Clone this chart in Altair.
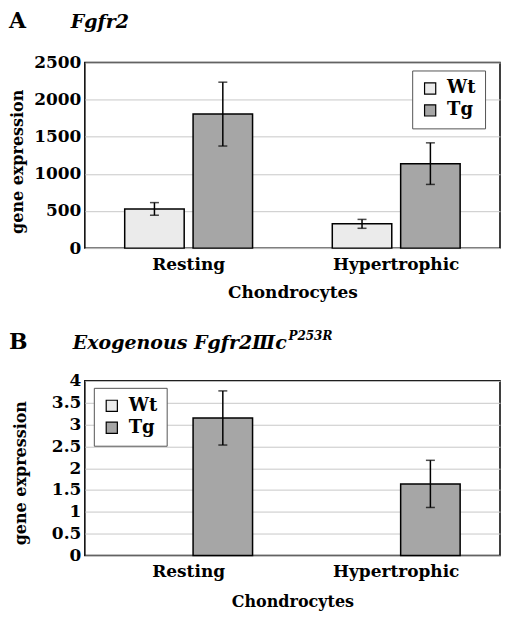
import altair as alt
import pandas as pd

groups = ["Wt", "Tg"]
cells = ["Resting", "Hypertrophic"]

# Panel A: Fgfr2
a_wt = [528, 327]
a_wt_err = [85, 60]
a_tg = [1805, 1138]
a_tg_err = [430, 280]
a_ticks = [0, 500, 1000, 1500, 2000, 2500]

# Panel B: exogenous Fgfr2IIIc P253R (Wt not detected)
b_tg = [3.15, 1.64]
b_tg_err = [0.62, 0.54]
b_ticks = [0, 0.5, 1, 1.5, 2, 2.5, 3, 3.5, 4]

fills = ["#ebebeb", "#a6a6a6"]
FONT = "DejaVu Serif"
W = 416


def make_df(series):
    rows = []
    for g, vals, errs in series:
        for c, v, e in zip(cells, vals, errs):
            rows.append({"cell": c, "group": g, "value": v, "lo": v - e, "hi": v + e})
    return pd.DataFrame(rows)


df_a = make_df([("Wt", a_wt, a_wt_err), ("Tg", a_tg, a_tg_err)])
df_b = make_df([("Tg", b_tg, b_tg_err)])


def panel(df, ticks, ymax, height, xo_inner, xo_outer, lx, ly, title_x, title_y,
          letter, gene, sup, xtitle_size, xtitle_pad):
    x = alt.X("cell:N", sort=cells,
              scale=alt.Scale(domain=cells, paddingInner=0, paddingOuter=0),
              axis=alt.Axis(title="Chondrocytes", labelAngle=0, ticks=False, domain=False,
                            labelFontSize=17, labelFontWeight="bold", labelPadding=8,
                            titleFontSize=xtitle_size, titleFontWeight="bold",
                            titlePadding=xtitle_pad,
                            labelColor="black", titleColor="black"))
    xo = alt.XOffset("group:N", sort=groups,
                     scale=alt.Scale(domain=groups, paddingInner=xo_inner, paddingOuter=xo_outer))
    yaxis = alt.Axis(values=ticks, labelExpr="'' + datum.value", labelOverlap=False,
                     ticks=False, domain=False,
                     gridColor="#c8c8c8", gridWidth=1,
                     labelFontSize=17, labelFontWeight="bold", labelPadding=4,
                     labelColor="black", titleColor="black",
                     titleFontSize=16, titleFontWeight="bold",
                     titleX=title_x, titleY=title_y)
    yscale = alt.Scale(domain=[0, ymax], nice=False)

    def Y(field):
        return alt.Y(field, scale=yscale, axis=yaxis, title="gene expression")

    base = alt.Chart(df)
    bars = base.mark_bar(stroke="black", strokeWidth=1.5).encode(
        x=x, xOffset=xo, y=Y("value:Q"),
        color=alt.Color("group:N", scale=alt.Scale(domain=groups, range=fills),
                        legend=alt.Legend(title=None, orient="none", legendX=lx, legendY=ly,
                                          fillColor="white", strokeColor="#555555",
                                          padding=9, symbolType="square", symbolSize=125,
                                          symbolStrokeColor="black", symbolStrokeWidth=1.2,
                                          labelFontSize=18, labelFontWeight="bold",
                                          labelColor="black", labelOffset=8, rowPadding=4)),
    )
    rules = base.mark_rule(color="black", strokeWidth=1.5).encode(
        x=x, xOffset=xo, y=Y("lo:Q"), y2="hi:Q")
    cap_lo = base.mark_tick(color="black", thickness=1.5, size=9).encode(
        x=x, xOffset=xo, y=Y("lo:Q"))
    cap_hi = base.mark_tick(color="black", thickness=1.5, size=9).encode(
        x=x, xOffset=xo, y=Y("hi:Q"))

    lab = alt.Chart(pd.DataFrame({"t": [letter[0]]})).mark_text(
        font=FONT, fontSize=22, fontWeight="bold", align="left", baseline="top",
        color="black").encode(text="t:N", x=alt.value(-76), y=alt.value(letter[1]))
    gen = alt.Chart(pd.DataFrame({"t": [gene[0]]})).mark_text(
        font=FONT, fontSize=19, fontWeight="bold", fontStyle="italic", align="left",
        baseline="top", color="black").encode(
        text="t:N", x=alt.value(gene[1]), y=alt.value(gene[2]))
    layers = [bars, rules, cap_lo, cap_hi, lab, gen]
    if sup:
        sp = alt.Chart(pd.DataFrame({"t": [sup[0]]})).mark_text(
            font=FONT, fontSize=12, fontWeight="bold", fontStyle="italic", align="left",
            baseline="top", color="black").encode(
            text="t:N", x=alt.value(sup[1]), y=alt.value(sup[2]))
        layers.append(sp)
    return alt.layer(*layers).properties(width=W, height=height).resolve_scale(
        color="independent")


pa = panel(df_a, a_ticks, 2500, 186, 0.13, 0.583, 328, 8, -59, 99,
           ("A", -52), ("Fgfr2", -14, -50), None, 17, 12)
pb = panel(df_b, b_ticks, 4, 175, 0.0, 0.746, 9, 7, -56, 92,
           ("B", -49), ("Exogenous Fgfr2\u2162c", -12, -47), ("P253R", 204, -50), 16, 14)

chart = alt.vconcat(pa, pb, spacing=28).resolve_scale(color="independent").resolve_legend(
    color="independent").properties(
    padding={"left": 0, "top": 0, "right": 0, "bottom": 0}
).configure(font=FONT).configure_view(stroke="black", strokeWidth=1.5)

chart.save("out.html", embed_options={"renderer": "svg", "actions": False})
